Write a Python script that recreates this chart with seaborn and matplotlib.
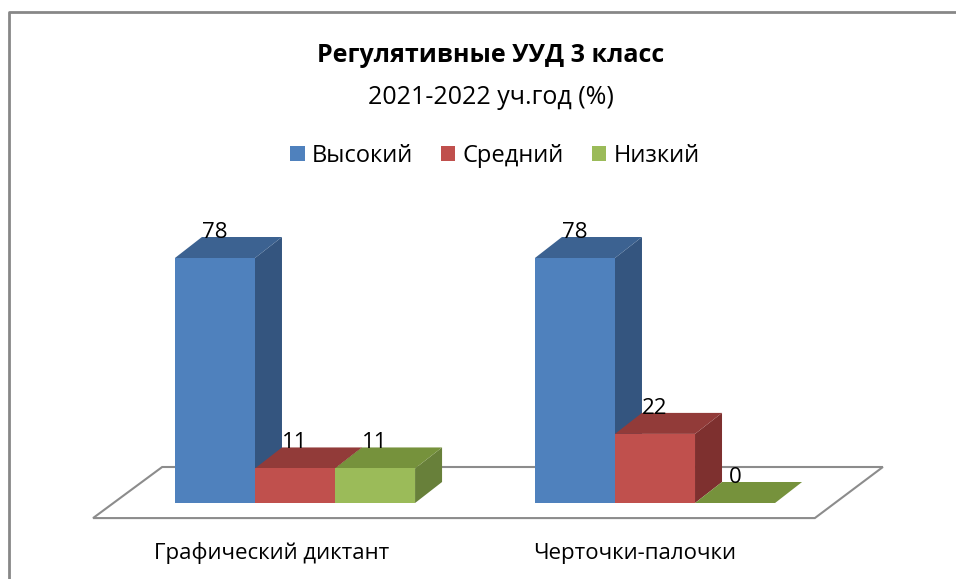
import matplotlib
matplotlib.use('Agg')
import matplotlib.pyplot as plt
from matplotlib.patches import Polygon
from matplotlib.lines import Line2D
import seaborn as sns
import pandas as pd

# Данные
categories = ['Графический диктант', 'Черточки-палочки']
levels = ['Высокий', 'Средний', 'Низкий']
high = [78, 78]
mid = [11, 22]
low = [11, 0]

front_colors = ['#4F81BD', '#C0504D', '#9BBB59']
top_colors = ['#3C6291', '#923B39', '#76923C']
side_colors = ['#34557F', '#7E302F', '#68803A']

rows = []
for lvl, vals in zip(levels, [high, mid, low]):
    for cat, v in zip(categories, vals):
        rows.append({'category': cat, 'level': lvl, 'value': v})
df = pd.DataFrame(rows)

sns.set_style('white')
plt.rcParams['font.family'] = ['Open Sans', 'DejaVu Sans']
plt.rcParams['text.color'] = 'black'

fig = plt.figure(figsize=(9.56, 5.79), dpi=100)
ax = fig.add_axes([0, 0, 1, 1])

sns.barplot(data=df, x='category', y='value', hue='level', palette=front_colors,
            hue_order=levels, order=categories, width=0.667, saturation=1,
            edgecolor='none', ax=ax)

# масштаб: 1 категория = 360 px, 78 % = 245 px
px_x = 360.0
px_y = 245.0 / 78
ax.set_xlim(-295 / px_x, (956 - 295) / px_x)
ax.set_ylim(-(579 - 503) / px_y, 503 / px_y)
ax.axis('off')

dx = 27 / px_x
dy = 21 / px_y

# пол
floor = Polygon([(-0.561, -4.8), (1.444, -4.8), (1.633, 11.46), (-0.369, 11.46)],
                closed=True, facecolor='white', edgecolor='#8C8C8C', lw=1.5, zorder=1)
ax.add_patch(floor)

# объём столбиков
bars = sorted([p for c in ax.containers for p in c], key=lambda p: p.get_x())
for i, p in enumerate(bars):
    x0 = p.get_x()
    w = p.get_width()
    h = p.get_height()
    k = i % 3
    z = 2 + i * 3
    side = Polygon([(x0 + w, 0), (x0 + w + dx, dy), (x0 + w + dx, h + dy), (x0 + w, h)],
                   closed=True, facecolor=side_colors[k], edgecolor='none', zorder=z)
    top = Polygon([(x0, h), (x0 + dx, h + dy), (x0 + w + dx, h + dy), (x0 + w, h)],
                  closed=True, facecolor=top_colors[k], edgecolor='none', zorder=z + 1)
    ax.add_patch(side)
    ax.add_patch(top)
    p.set_zorder(z + 2)
    ax.text(x0 + w / 2, h + dy - 0.3, f'{h:g}', ha='center', va='baseline',
            fontsize=16, color='black', zorder=50)

sns.move_legend(ax, 'center', bbox_to_anchor=(495 / 956, 1 - 156 / 579),
                bbox_transform=fig.transFigure, ncol=3, frameon=False, title=None,
                fontsize=17, handlelength=0.6, handleheight=0.6,
                handletextpad=0.3, columnspacing=1.2, labelcolor='black')

fig.text(491 / 956, 1 - 55 / 579, 'Регулятивные УУД 3 класс', ha='center', va='center',
         fontsize=18, fontweight='bold', color='black')
fig.text(491 / 956, 1 - 97 / 579, '2021-2022 уч.год (%)', ha='center', va='center',
         fontsize=18, color='black')

label_x = [272, 635]
for cat, lx in zip(categories, label_x):
    fig.text(lx / 956, 1 - 553 / 579, cat, ha='center', va='center', fontsize=16,
             color='black')

# рамка
fig.add_artist(Line2D([9 / 956, 9 / 956, 1], [0, 1 - 12 / 579, 1 - 12 / 579],
                      transform=fig.transFigure, color='#878787', lw=2))

fig.savefig('out.png', dpi=100)
